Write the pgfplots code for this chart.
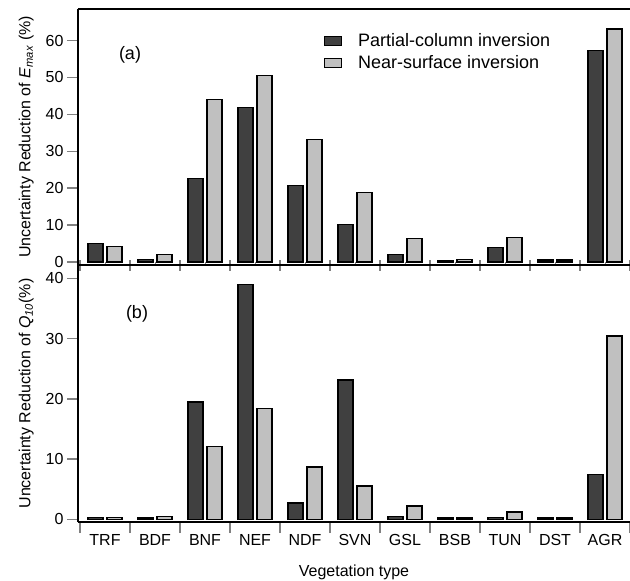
\documentclass[border=0pt]{standalone}
\usepackage{fontspec}
\setmainfont{Liberation Sans}
\usepackage{pgfplots}
\usepackage{pgfplotstable}
\pgfplotsset{compat=1.18}

\definecolor{pcol}{HTML}{404040}
\definecolor{nsur}{HTML}{C0C0C0}
\newcommand{\fs}{\fontsize{16}{19}\selectfont}
\newcommand{\fl}{\fontsize{18}{22}\selectfont}

% uncertainty reduction (%), categories at 0..10
% TRF BDF BNF NEF NDF SVN GSL BSB TUN DST AGR
\pgfplotstableread{
idx pc   ns
0   5.0  4.2
1   0.7  2.0
2   22.6 44.1
3   41.9 50.6
4   20.7 33.2
5   10.1 18.9
6   2.1  6.4
7   0.45 0.7
8   4.0  6.7
9   0.5  0.5
10  57.3 63.1
}\tabEmax

\pgfplotstableread{
idx pc   ns
0   0.3  0.3
1   0.2  0.5
2   19.5 12.1
3   39.0 18.4
4   2.7  8.7
5   23.1 5.5
6   0.5  2.2
7   0.2  0.2
8   0.3  1.2
9   0.2  0.2
10  7.4  30.4
}\tabQten

\pgfplotsset{
  vegbase/.style={
    scale only axis, width=552pt,
    xmin=-0.54, xmax=10.5,
    ybar=4pt, bar width=15pt,
    axis x line*=bottom, axis y line*=left,
    axis line style={-, line width=1.6pt},
    tick align=outside, major tick length=11pt,
    ytick style={line width=1.4pt},
    tick label style={font=\fs},
    label style={font=\fs},
    /pgf/number format/assume math mode=true,
    enlargelimits=false,
    clip=false,
    legend image code/.code={\draw[#1, line width=1pt] (0pt,-4.5pt) rectangle (17pt,4.5pt);},
  },
  pcbar/.style={fill=pcol, draw=black, line width=1.4pt},
  nsbar/.style={fill=nsur, draw=black, line width=1.4pt},
}

\begin{document}
\begin{tikzpicture}
\useasboundingbox (0pt,0pt) rectangle (630pt,-581pt);

% (a) E_max
\begin{axis}[vegbase,
  at={(78pt,-9pt)}, anchor=north west, height=256pt,
  ymin=-0.813, ymax=68.56, ytick={0,10,...,60},
  xtick={-0.5,0.5,...,10.5}, xticklabels={},
  major x tick style={yshift=5.5pt, line width=1.4pt},
  minor xtick={0,...,10}, minor tick length=3pt,
  minor x tick style={yshift=3pt, line width=1pt},
  ylabel={Uncertainty Reduction of \textit{E}\textsubscript{\textit{max}} (\%)},
  ylabel style={at={(axis description cs:-0.094,0.5)}, anchor=center},
  legend cell align=left,
  legend style={at={(axis description cs:0.4457,0.906)}, anchor=north west,
    draw=none, fill=none, inner sep=0pt, font=\fl, row sep=8pt,
    nodes={inner sep=0pt},
    /tikz/every odd column/.append style={column sep=16pt}},
]
\addplot[pcbar] table[x=idx, y=pc] {\tabEmax};
\addlegendentry{Partial-column inversion}
\addplot[nsbar] table[x=idx, y=ns] {\tabEmax};
\addlegendentry{Near-surface inversion}
\draw[line width=1.6pt] (rel axis cs:0,1) -- (rel axis cs:1,1);
\end{axis}

% (b) Q10
\begin{axis}[vegbase,
  at={(78pt,-265pt)}, anchor=north west, height=257pt,
  ymin=-0.448, ymax=42.21, ytick={0,10,...,40},
  xtick={0,...,10},
  xticklabels={TRF,BDF,BNF,NEF,NDF,SVN,GSL,BSB,TUN,DST,AGR},
  major x tick style={draw=none},
  minor xtick={-0.5,0.5,...,10.5}, minor tick length=11pt,
  minor x tick style={line width=1.4pt},
  xticklabel style={yshift=2pt},
  xlabel={Vegetation type},
  xlabel style={at={(axis description cs:0.5,-0.1946)}, anchor=center},
  ylabel={Uncertainty Reduction of \textit{Q}\textsubscript{\textit{10}}(\%)},
  ylabel style={at={(axis description cs:-0.094,0.5)}, anchor=center},
]
\addplot[pcbar] table[x=idx, y=pc] {\tabQten};
\addplot[nsbar] table[x=idx, y=ns] {\tabQten};
\end{axis}

\node[font=\fl] at (130pt,-55pt) {(a)};
\node[font=\fl] at (137pt,-314pt) {(b)};
\end{tikzpicture}
\end{document}
